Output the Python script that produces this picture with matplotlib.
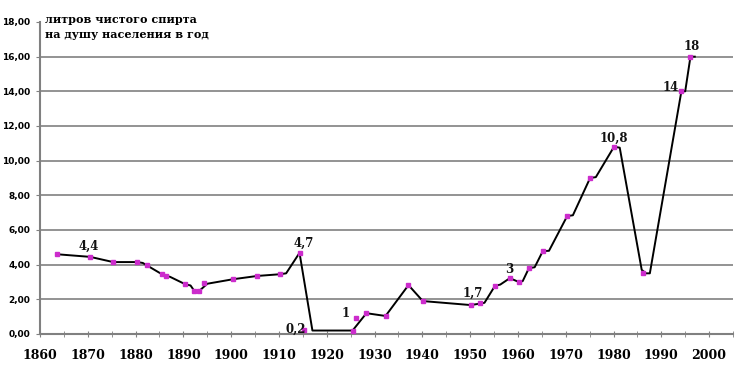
import matplotlib
matplotlib.use("Agg")
import matplotlib.pyplot as plt

# markers (years, litres of pure alcohol per capita)
pt_years = [1863.6, 1870.5, 1875.3, 1880.3, 1882.4, 1885.5, 1886.4, 1890.4, 1892.3, 1893.3,
            1894.4, 1900.4, 1905.5, 1910.3, 1914.3, 1915.3, 1925.4, 1926.2, 1928.3, 1932.3,
            1937.1, 1940.1, 1950.1, 1952.0, 1955.2, 1958.3, 1960.2, 1962.3, 1965.2, 1970.3,
            1975.1, 1980.1, 1986.2, 1994.2, 1996.1]
pt_vals = [4.60, 4.44, 4.15, 4.15, 3.98, 3.45, 3.35, 2.87, 2.48, 2.48,
           2.93, 3.16, 3.35, 3.45, 4.68, 0.23, 0.20, 0.93, 1.20, 1.04,
           2.82, 1.90, 1.67, 1.79, 2.78, 3.22, 3.00, 3.80, 4.78, 6.80,
           9.00, 10.80, 3.50, 14.00, 16.00]

# the drawn line (slightly offset from the markers in the original)
line_years = [1863.6, 1870.5, 1875.3, 1880.3, 1881.5, 1885.5, 1886.4, 1887.2, 1890.4, 1891.5,
              1892.3, 1893.3, 1895.0, 1900.4, 1905.5, 1910.3, 1911.5, 1914.3, 1917.0, 1925.4,
              1928.3, 1932.3, 1937.1, 1940.1, 1950.1, 1952.0, 1953.0, 1955.2, 1956.3, 1958.3,
              1960.2, 1961.0, 1962.3, 1963.5, 1965.2, 1966.5, 1970.3, 1971.5, 1975.1, 1976.3,
              1980.1, 1981.3, 1985.9, 1986.8, 1987.6, 1994.2, 1995.0, 1996.1, 1997.0]
line_vals = [4.60, 4.45, 4.15, 4.15, 4.10, 3.45, 3.35, 3.30, 2.87, 2.80,
             2.48, 2.48, 2.90, 3.16, 3.35, 3.45, 3.50, 4.68, 0.20, 0.20,
             1.20, 1.04, 2.82, 1.90, 1.67, 1.75, 1.80, 2.78, 2.85, 3.22,
             3.00, 3.05, 3.80, 3.85, 4.78, 4.80, 6.80, 6.85, 9.00, 9.05,
             10.80, 10.75, 3.70, 3.50, 3.50, 14.00, 14.00, 16.00, 16.00]

# value labels: (year, value, text, dx px, dy px)
labels = [(1870.5, 4.44, "4,4", -1, 11),
          (1914.3, 4.68, "4,7", 4, 10),
          (1915.3, 0.23, "0,2", -9, 1),
          (1926.2, 0.93, "1", -11, 4),
          (1950.1, 1.67, "1,7", 2, 12),
          (1958.3, 3.22, "3", -1, 9),
          (1980.1, 10.80, "10,8", 0, 9),
          (1994.2, 14.00, "14", -11, 4),
          (1996.1, 16.00, "18", 1, 10)]

y_ticks = [0, 2, 4, 6, 8, 10, 12, 14, 16, 18]
x_major = list(range(1860, 2001, 10))
x_minor = list(range(1865, 2006, 10))

fig = plt.figure(figsize=(7.53, 3.73), dpi=100)
ax = fig.add_axes([40 / 753, 39 / 373, 693 / 753, 312 / 373])

for v in y_ticks[1:-1]:
    ax.axhline(v, color="#8a8a8a", lw=1.3, zorder=1)

ax.plot(line_years, line_vals, color="black", lw=1.4, zorder=2)
ax.plot(pt_years, pt_vals, ls="none", marker="s", ms=3.5, color="#cc2ccc", zorder=3)

for yr, v, txt, dx, dy in labels:
    ax.annotate(txt, (yr, v), xytext=(dx, dy), textcoords="offset pixels",
                ha="center", va="center", fontsize=8.5, fontweight="bold",
                family="DejaVu Serif", color="#111111")

ax.set_xlim(1860, 2005)
ax.set_ylim(0, 18)
ax.set_yticks(y_ticks)
ax.set_yticklabels([f"{v:.2f}".replace(".", ",") for v in y_ticks],
                   fontsize=6.5, fontweight="bold", family="DejaVu Sans")
ax.set_xticks(x_major)
ax.set_xticks(x_minor, minor=True)
ax.set_xticklabels([str(y) for y in x_major], fontsize=9, fontweight="bold",
                   family="DejaVu Serif")

for s in ["top", "right"]:
    ax.spines[s].set_visible(False)
for s in ["left", "bottom"]:
    ax.spines[s].set_color("#808080")
    ax.spines[s].set_linewidth(1.5)

ax.tick_params(axis="y", length=3, color="#808080", pad=4)
ax.tick_params(axis="x", which="both", direction="inout", length=5, color="#808080", pad=8)

fig.text(45 / 753, 1 - 27 / 373, "литров чистого спирта\nна душу населения в год",
         ha="left", va="center", fontsize=8, fontweight="bold", family="DejaVu Serif",
         linespacing=1.55)

fig.savefig("out.png", dpi=100)
